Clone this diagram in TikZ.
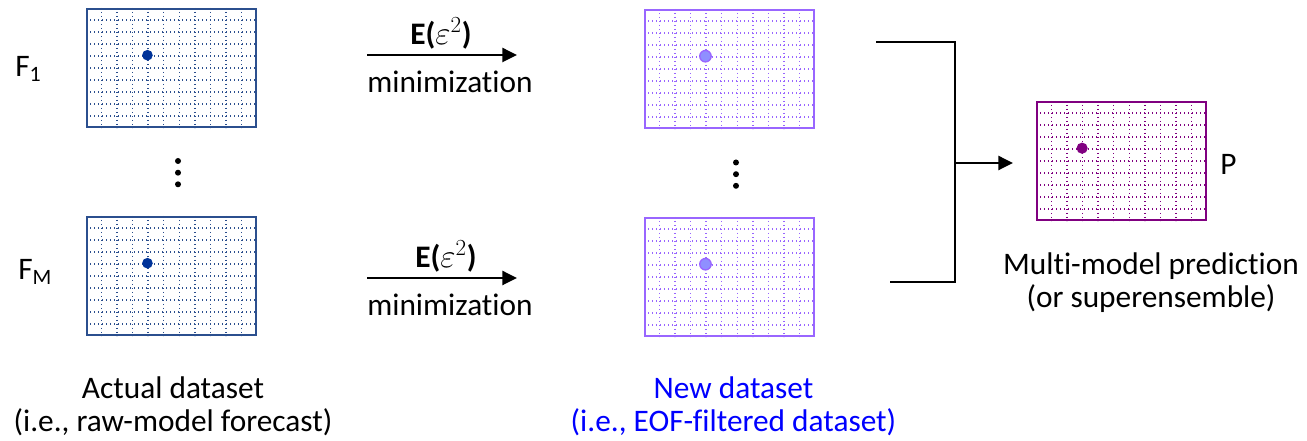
\documentclass[tikz,border=0pt]{standalone}
\usepackage{fontspec}
\setmainfont{Carlito}[Ligatures=NoCommon]
\usetikzlibrary{arrows.meta,calc,positioning}

\definecolor{rawblue}{HTML}{2B4F8E}
\definecolor{rawdot}{HTML}{003399}
\definecolor{eofviolet}{HTML}{9966FF}
\definecolor{eofdot}{HTML}{8F8FFF}
\definecolor{superpurple}{HTML}{800080}
\definecolor{newblue}{HTML}{0000FF}

\tikzset{
 field/.style={draw=#1, line width=1.5pt, inner sep=0pt,
  minimum width=126.75pt, minimum height=88.5pt},
 gridline/.style={draw=#1, line width=1.1pt, dash pattern=on 1pt off 2pt},
 flow/.style={line width=1.8pt, -{Triangle[length=11pt,width=10.5pt]}},
 txt/.style={inner sep=0pt, align=center,
  font=\fontsize{23.5pt}{24.75pt}\selectfont},
}

% dotted 11x10 grid inside a field box
\newcommand{\fieldgrid}[2]{%
 \foreach \i in {1,...,10}
  \draw[gridline=#2] ($(#1.north west)!\i/11!(#1.north east)$) -- ($(#1.south west)!\i/11!(#1.south east)$);
 \foreach \j in {1,...,9}
  \draw[gridline=#2] ($(#1.north west)!\j/10!(#1.south west)$) -- ($(#1.north east)!\j/10!(#1.south east)$);
}

\begin{document}
\begin{tikzpicture}[x=0.75pt,y=-0.75pt]
 \useasboundingbox (0,0) rectangle (1307,441);

 \node[field=rawblue] (f_1) at (171.5,68) {};
 \node[field=rawblue] (f_M) at (171.5,276) {};
 \node[field=eofviolet] (new_1) at (729.5,69) {};
 \node[field=eofviolet] (new_M) at (729.5,277) {};
 \node[field=superpurple] (pred) at (1121.5,161) {};

 \fieldgrid{f_1}{rawblue}
 \fieldgrid{f_M}{rawblue}
 \fieldgrid{new_1}{eofviolet}
 \fieldgrid{new_M}{eofviolet}
 \fieldgrid{pred}{superpurple}

 \fill[rawdot] ($(f_1.north west)+(61.45,47.2)$) circle[radius=4pt];
 \fill[rawdot] ($(f_M.north west)+(61.45,47.2)$) circle[radius=4pt];
 \filldraw[fill=eofdot,draw=eofviolet,line width=1pt] ($(new_1.north west)+(61.45,47.2)$) circle[radius=4.3pt];
 \filldraw[fill=eofdot,draw=eofviolet,line width=1pt] ($(new_M.north west)+(61.45,47.2)$) circle[radius=4.3pt];
 \fill[superpurple] ($(pred.north west)+(46.1,47.2)$) circle[radius=4.2pt];

 \foreach \y in {161,172.7,184.3} {
  \fill (178,\y) circle[radius=2.25pt];
  \fill (736,\y+1.5) circle[radius=2.25pt];
 }

 \node[txt,anchor=base west] (lab_f1) at (15,77) {F\textsubscript{1}};
 \node[txt,anchor=base west] (lab_fM) at (18,280) {F\textsubscript{M}};
 \node[txt,anchor=base west] (lab_p) at (1220,175) {P};

 \coordinate (min_1 start) at (367,55);
 \coordinate (min_1 end) at (517,55);
 \coordinate (min_M start) at (367,278);
 \coordinate (min_M end) at (517,278);
 \draw[flow] (min_1 start) -- (min_1 end);
 \draw[flow] (min_M start) -- (min_M end);
 \node[txt,anchor=base] (err_1) at (441,45) {\textbf{E(}$\varepsilon^2$\textbf{)}};
 \node[txt,anchor=base] (err_M) at (446,268) {\textbf{E(}$\varepsilon^2$\textbf{)}};
 \node[txt,anchor=base] (mn_1) at (450,93) {minimization};
 \node[txt,anchor=base] (mn_M) at (450,316) {minimization};

 \coordinate (join_1) at (876,42);
 \coordinate (join_M) at (890,282);
 \coordinate (hub) at (955,163);
 \draw[line width=1.8pt] (join_1) -| (hub) |- (join_M);
 \draw[flow,shorten >=17.25pt] (hub) -- (hub -| pred.west);

 % two-line captions sit on the baseline of their last line
 \node[txt,anchor=base] (raw) at (173,432) {Actual dataset\\(i.e., raw-model forecast)};
 \node[txt,anchor=base,text=newblue] (eof) at (733.5,432) {New dataset\\(i.e., EOF-filtered dataset)};
 \node[txt,anchor=base] (multi) at (1151,308) {Multi-model prediction\\(or superensemble)};
\end{tikzpicture}
\end{document}
